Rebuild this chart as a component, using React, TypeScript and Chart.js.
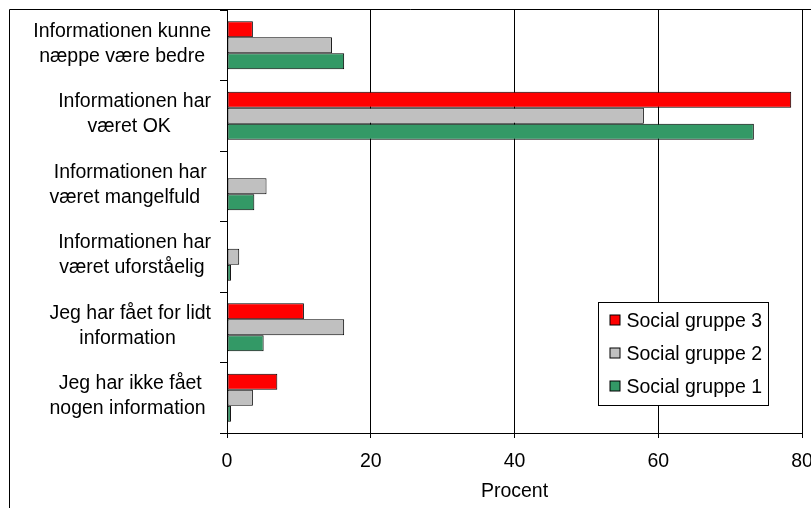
import React, { useEffect, useRef } from "react";
import { Chart, registerables } from "chart.js";

Chart.register(...registerables);

// ---- data ----
const categories = [
  "Informationen kunne næppe være bedre",
  "Informationen har været OK",
  "Informationen har været mangelfuld",
  "Informationen har været uforståelig",
  "Jeg har fået for lidt information",
  "Jeg har ikke fået nogen information",
];
const categoryLines = [
  ["Informationen kunne", "næppe være bedre"],
  ["Informationen har", "været OK  "],
  ["Informationen har", "været mangelfuld  "],
  ["Informationen har", "været uforståelig "],
  ["Jeg har fået for lidt", "information "],
  ["Jeg har ikke fået", "nogen information "],
];
const socialGruppe3 = [3.6, 78.5, 0, 0, 10.7, 7.0];
const socialGruppe2 = [14.6, 58.0, 5.5, 1.7, 16.3, 3.6];
const socialGruppe1 = [16.3, 73.3, 3.8, 0.55, 5.1, 0.55];
const seriesNames = ["Social gruppe 3", "Social gruppe 2", "Social gruppe 1"];
const seriesColors = ["#FF0000", "#C0C0C0", "#339966"];
const xTickValues = [0, 20, 40, 60, 80];
const axisTitle = "Procent";

const FONT_FAMILY = '"Liberation Sans", Arial, sans-serif';
const FS = 19.5;

const outerBorderPlugin = {
  id: "outerBorder",
  beforeDraw(chart: any) {
    const { ctx, width, height } = chart;
    ctx.save();
    ctx.strokeStyle = "#000";
    ctx.lineWidth = 1;
    ctx.beginPath();
    ctx.moveTo(1.5, height);
    ctx.lineTo(1.5, 1.5);
    ctx.lineTo(width, 1.5);
    ctx.stroke();
    ctx.restore();
  },
};

const yLabelPlugin = {
  id: "yLabels",
  afterDraw(chart: any) {
    const { ctx, chartArea, scales } = chart;
    const y = scales.y;
    ctx.save();
    ctx.font = `${FS}px ${FONT_FAMILY}`;
    ctx.fillStyle = "#000";
    ctx.textBaseline = "middle";
    ctx.textAlign = "center";
    const right = chartArea.left - 16;
    categoryLines.forEach((lines, i) => {
      const cy = y.getPixelForValue(i) - 1.5;
      const w = Math.max(...lines.map((l) => ctx.measureText(l).width));
      const cx = right - w / 2;
      lines.forEach((l, j) => {
        const ly = cy + (j - (lines.length - 1) / 2) * 25;
        ctx.fillText(l, cx, ly);
      });
    });
    ctx.restore();
  },
};

const legendPlugin = {
  id: "boxLegend",
  afterDraw(chart: any) {
    const { ctx, chartArea } = chart;
    const left = Math.round(chartArea.right - 204) + 0.5;
    const top = Math.round(chartArea.bottom - 131) + 0.5;
    const w = 170;
    const h = 103;
    ctx.save();
    ctx.fillStyle = "#fff";
    ctx.fillRect(left, top, w, h);
    ctx.strokeStyle = "#000";
    ctx.lineWidth = 1;
    ctx.strokeRect(left, top, w, h);
    ctx.font = `${FS}px ${FONT_FAMILY}`;
    ctx.textBaseline = "middle";
    ctx.textAlign = "left";
    chart.data.datasets.forEach((ds: any, i: number) => {
      const cy = top + 18 + i * 33;
      ctx.fillStyle = ds.backgroundColor;
      ctx.fillRect(left + 11.5, cy - 5.5, 10, 10);
      ctx.strokeStyle = "#000";
      ctx.strokeRect(left + 11.5, cy - 5.5, 10, 10);
      ctx.fillStyle = "#000";
      ctx.fillText(ds.label, left + 28, cy + 1);
    });
    ctx.restore();
  },
};

export default function App() {
  const ref = useRef<HTMLCanvasElement | null>(null);

  useEffect(() => {
    document.documentElement.style.overflow = "hidden";
    const canvas = ref.current;
    if (!canvas) return;
    const font = { family: FONT_FAMILY, size: FS };
    const data = [socialGruppe3, socialGruppe2, socialGruppe1];
    const chart = new Chart(canvas, {
      type: "bar",
      data: {
        labels: categories,
        datasets: seriesNames.map((name, i) => ({
          label: name,
          data: data[i],
          backgroundColor: seriesColors[i],
          borderColor: "#000",
          borderWidth: 1,
          borderSkipped: false,
          categoryPercentage: 0.68,
          barPercentage: 1,
        })),
      },
      options: {
        indexAxis: "y",
        responsive: false,
        animation: false,
        devicePixelRatio: 1,
        layout: { autoPadding: false, padding: { top: 2, right: 9, left: 0, bottom: 0 } },
        plugins: {
          legend: { display: false },
          tooltip: { enabled: false },
        },
        scales: {
          x: {
            type: "linear",
            min: 0,
            max: 80,
            afterBuildTicks: (s: any) => {
              s.ticks = xTickValues.map((v) => ({ value: v }));
            },
            afterFit: (s: any) => {
              s.height = 75;
              s.paddingRight = 0;
            },
            ticks: { color: "#000", font, padding: 12, maxRotation: 0, autoSkip: false },
            grid: { color: "#000", tickColor: "#000", tickLength: 5, lineWidth: 1 },
            border: { color: "#000", width: 1 },
            title: {
              display: true,
              text: axisTitle,
              color: "#000",
              font,
              padding: { top: 0, bottom: 4.6 },
            },
          },
          y: {
            type: "category",
            offset: true,
            ticks: { display: false },
            grid: {
              drawOnChartArea: false,
              offset: true,
              tickLength: 7,
              color: "#000",
              tickColor: "#000",
            },
            border: { color: "#000", width: 1 },
            afterFit: (s: any) => {
              s.width = 219;
            },
          },
        },
      },
      plugins: [outerBorderPlugin, yLabelPlugin, legendPlugin],
    } as any);
    return () => chart.destroy();
  }, []);

  return (
    <div style={{ position: "absolute", left: 8, top: 8, width: 803, height: 500, overflow: "hidden" }}>
      <canvas ref={ref} width={803} height={500} style={{ display: "block" }} />
    </div>
  );
}
